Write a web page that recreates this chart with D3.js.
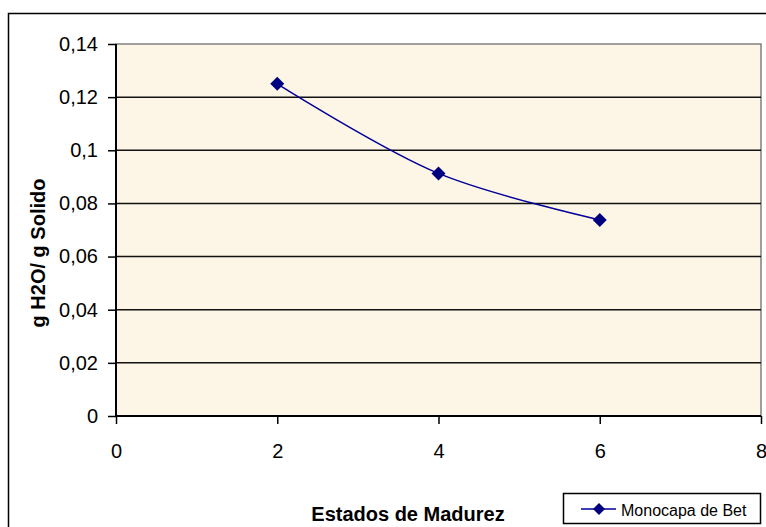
<!DOCTYPE html>
<html><head><meta charset="utf-8">
<script src="https://cdn.jsdelivr.net/npm/d3@7"></script>
<style>body{margin:0;background:#fff;}svg{display:block;font-family:"Liberation Sans",Arial,sans-serif;}</style>
</head><body>
<svg id="c" width="766" height="527"></svg>
<script>
const xValues = [2, 4, 6];
const yValues = [0.125, 0.0913, 0.0738];
const xTicks = [0, 2, 4, 6, 8];
const yTicks = [0, 0.02, 0.04, 0.06, 0.08, 0.1, 0.12, 0.14];
const seriesName = "Monocapa de Bet";
const xTitle = "Estados de Madurez";
const yTitle = "g H2O/ g Solido";

const svg = d3.select("#c");
const L = 116, R = 761, T = 44, B = 416;
const x = d3.scaleLinear().domain([0, 8]).range([L, R]);
const y = d3.scaleLinear().domain([0, 0.14]).range([B, T]);
const fmt = v => String(+v.toFixed(2)).replace(".", ",");

// outer border
svg.append("rect").attr("x", 8.5).attr("y", 13.5).attr("width", 800).attr("height", 600)
  .attr("fill", "#fff").attr("stroke", "#000").attr("stroke-width", 1.5);

// texture
const defs = svg.append("defs");
const f = defs.append("filter").attr("id", "tex").attr("x", 0).attr("y", 0).attr("width", 1).attr("height", 1);
f.append("feTurbulence").attr("type", "fractalNoise").attr("baseFrequency", "0.025 0.04").attr("numOctaves", 3).attr("seed", 7).attr("result", "n");
f.append("feColorMatrix").attr("in", "n").attr("type", "matrix")
  .attr("values", "0 0 0 0 0.97  0 0 0 0 0.91  0 0 0 0 0.78  0.25 0 0 0 -0.09").attr("result", "c");
f.append("feComposite").attr("in", "c").attr("in2", "SourceGraphic").attr("operator", "over");

svg.append("rect").attr("x", L).attr("y", T).attr("width", R - L).attr("height", B - T)
  .attr("fill", "#FDF6E6").attr("filter", "url(#tex)");
svg.append("rect").attr("x", L).attr("y", T).attr("width", R - L).attr("height", B - T)
  .attr("fill", "none").attr("stroke", "#808080").attr("stroke-width", 1.5);

// gridlines
svg.append("g").selectAll("line").data(yTicks.filter(d => d > 0 && d < 0.14)).join("line")
  .attr("x1", L).attr("x2", R).attr("y1", d => y(d)).attr("y2", d => y(d))
  .attr("stroke", "#111").attr("stroke-width", 1.5);

// axes
const yAxis = d3.axisLeft(y).tickValues(yTicks).tickFormat(fmt).tickSize(8).tickPadding(10);
const gy = svg.append("g").attr("transform", `translate(${L},0)`).call(yAxis);
const xAxis = d3.axisBottom(x).tickValues(xTicks).tickFormat(d => d).tickSize(8).tickPadding(20);
const gx = svg.append("g").attr("transform", `translate(0,${B})`).call(xAxis);
[gy, gx].forEach(g => {
  g.select(".domain").attr("stroke", "#000").attr("stroke-width", 2);
  g.selectAll(".tick line").attr("stroke", "#000").attr("stroke-width", 1.5);
  g.selectAll("text").attr("font-size", 20).attr("fill", "#000").attr("font-family", "Liberation Sans, Arial, sans-serif");
});
gy.select(".domain").attr("d", `M0,${B}V${T}`);
gx.select(".domain").attr("d", `M${L},0H${R}`);

// line
const pts = xValues.map((v, i) => [v, yValues[i]]);
const line = d3.line().x(d => x(d[0])).y(d => y(d[1])).curve(d3.curveCatmullRom.alpha(0.5));
svg.append("path").attr("d", line(pts)).attr("fill", "none").attr("stroke", "#000099").attr("stroke-width", 1.5);
svg.append("g").selectAll("path").data(pts).join("path")
  .attr("transform", d => `translate(${x(d[0])},${y(d[1])})`)
  .attr("d", "M0,-7L7,0L0,7L-7,0Z").attr("fill", "#000080");

// titles
svg.append("text").attr("x", 408).attr("y", 521).attr("text-anchor", "middle")
  .attr("font-size", 20).attr("font-weight", "bold").text(xTitle);
svg.append("text").attr("transform", "translate(45,253) rotate(-90)").attr("text-anchor", "middle")
  .attr("font-size", 20).attr("font-weight", "bold").text(yTitle);

// legend
const lg = svg.append("g");
lg.append("rect").attr("x", 563.5).attr("y", 493.5).attr("width", 197).attr("height", 30)
  .attr("fill", "#fff").attr("stroke", "#000").attr("stroke-width", 1.5);
lg.append("line").attr("x1", 581).attr("x2", 616).attr("y1", 509).attr("y2", 509).attr("stroke", "#000099").attr("stroke-width", 1.5);
lg.append("path").attr("transform", "translate(599,509)").attr("d", "M0,-6L6,0L0,6L-6,0Z").attr("fill", "#000080");
lg.append("text").attr("x", 621).attr("y", 516).attr("font-size", 16).text(seriesName);
</script>
</body></html>
